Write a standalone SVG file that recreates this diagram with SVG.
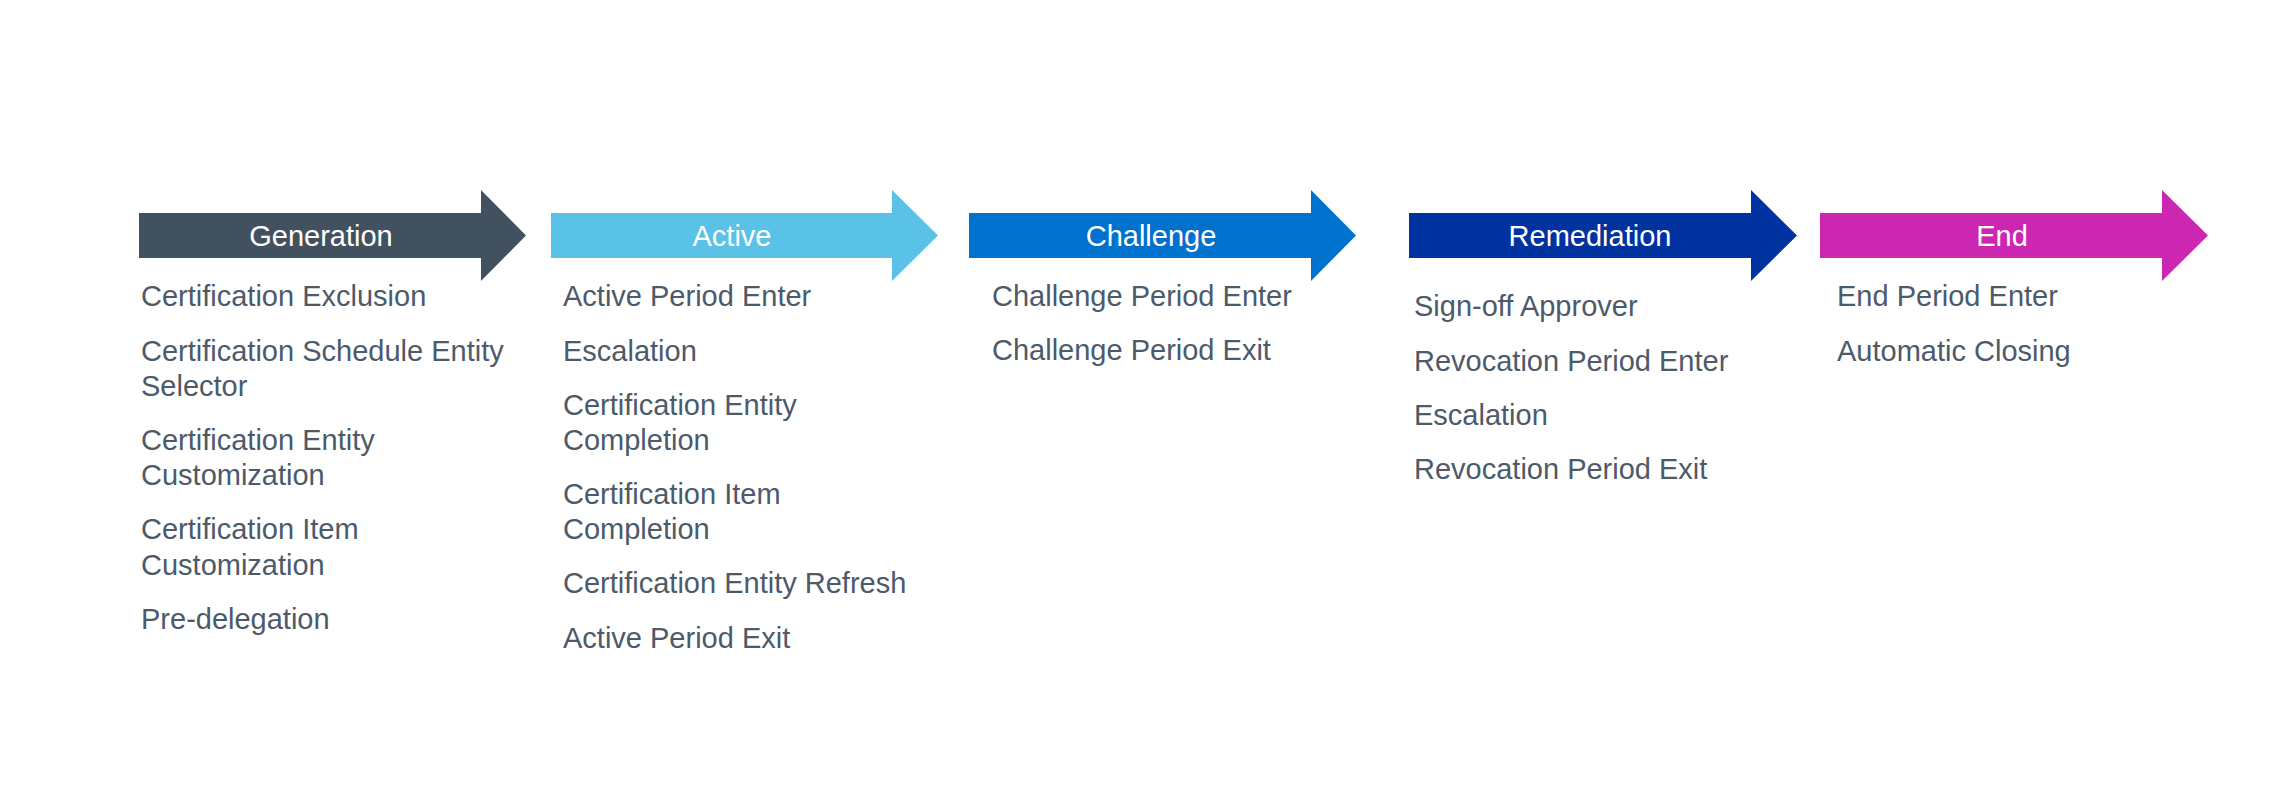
<svg xmlns="http://www.w3.org/2000/svg" width="2280" height="795" viewBox="0 0 2280 795">
<style>
.title{font-family:"Liberation Sans",Arial,sans-serif;font-size:29px;fill:#ffffff;text-anchor:middle}
.item{font-family:"Liberation Sans",Arial,sans-serif;font-size:29px;fill:#4c5a6a}
</style>
<rect x="0" y="0" width="2280" height="795" fill="#ffffff"/>
<g id="generation">
<path d="M139 213 H481 V190 L526 235.5 L481 281 V258 H139 Z" fill="#425160"/>
<text class="title" x="321" y="246">Generation</text>
<text class="item" x="141" y="306">Certification Exclusion</text>
<text class="item" x="141" y="361">Certification Schedule Entity</text>
<text class="item" x="141" y="396">Selector</text>
<text class="item" x="141" y="450">Certification Entity</text>
<text class="item" x="141" y="485">Customization</text>
<text class="item" x="141" y="539">Certification Item</text>
<text class="item" x="141" y="575">Customization</text>
<text class="item" x="141" y="629">Pre-delegation</text>
</g>
<g id="active">
<path d="M551 213 H892 V190 L938 235.5 L892 281 V258 H551 Z" fill="#5bc2e7"/>
<text class="title" x="732" y="246">Active</text>
<text class="item" x="563" y="306">Active Period Enter</text>
<text class="item" x="563" y="361">Escalation</text>
<text class="item" x="563" y="415">Certification Entity</text>
<text class="item" x="563" y="450">Completion</text>
<text class="item" x="563" y="504">Certification Item</text>
<text class="item" x="563" y="539">Completion</text>
<text class="item" x="563" y="593">Certification Entity Refresh</text>
<text class="item" x="563" y="648">Active Period Exit</text>
</g>
<g id="challenge">
<path d="M969 213 H1311 V190 L1356 235.5 L1311 281 V258 H969 Z" fill="#0072ce"/>
<text class="title" x="1151" y="246">Challenge</text>
<text class="item" x="992" y="306">Challenge Period Enter</text>
<text class="item" x="992" y="360">Challenge Period Exit</text>
</g>
<g id="remediation">
<path d="M1409 213 H1751 V190 L1797 235.5 L1751 281 V258 H1409 Z" fill="#0033a0"/>
<text class="title" x="1590" y="246">Remediation</text>
<text class="item" x="1414" y="316">Sign-off Approver</text>
<text class="item" x="1414" y="371">Revocation Period Enter</text>
<text class="item" x="1414" y="425">Escalation</text>
<text class="item" x="1414" y="479">Revocation Period Exit</text>
</g>
<g id="end">
<path d="M1820 213 H2162 V190 L2208 235.5 L2162 281 V258 H1820 Z" fill="#cc27b0"/>
<text class="title" x="2002" y="246">End</text>
<text class="item" x="1837" y="306">End Period Enter</text>
<text class="item" x="1837" y="361">Automatic Closing</text>
</g>
<g id="connectors"></g>
</svg>
